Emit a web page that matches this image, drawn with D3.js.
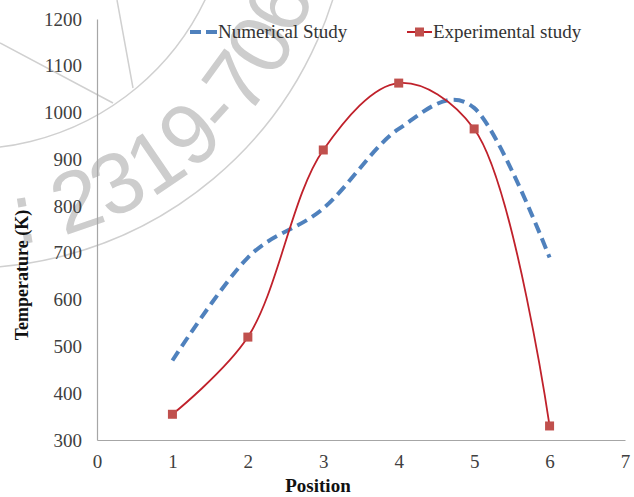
<!DOCTYPE html>
<html>
<head>
<meta charset="utf-8">
<script src="https://cdn.jsdelivr.net/npm/d3@7"></script>
<style>
  body { margin: 0; background: #fff; }
  svg { display: block; }
  text { font-family: "Times New Roman", "Liberation Serif", serif; }
</style>
</head>
<body>
<div id="chart"></div>
<script>
'use strict';

var positions = [1, 2, 3, 4, 5, 6];
var numerical = [470, 690, 795, 965, 1010, 690];
var experimental = [355, 520, 920, 1063, 965, 330];
var xTicks = [0, 1, 2, 3, 4, 5, 6, 7];
var yTicks = [300, 400, 500, 600, 700, 800, 900, 1000, 1100, 1200];
var seriesNames = ['Numerical Study', 'Experimental study'];

var width = 634, height = 497;
var blue = '#4f81bd', redLine = '#c0212b', redMark = '#c0504d';
var serif = '"Times New Roman", "Liberation Serif", serif';

var svg = d3.select('#chart')
    .append('svg')
    .attr('width', width)
    .attr('height', height);

// faint stamp watermark behind the chart
var stamp = svg.append('g').attr('class', 'stamp');
var cx = -32, cy = -114;
function arcPath(r, a0, a1) {
    var rad = Math.PI / 180;
    return 'M' + (cx + r * Math.cos(a0 * rad)) + ',' + (cy + r * Math.sin(a0 * rad)) +
        'A' + r + ',' + r + ' 0 0 0 ' + (cx + r * Math.cos(a1 * rad)) + ',' + (cy + r * Math.sin(a1 * rad));
}
stamp.append('path').attr('d', arcPath(382, 100, 0))
    .attr('fill', 'none').attr('stroke', '#d0d0d0').attr('stroke-width', 1.5);
stamp.append('path').attr('d', arcPath(263, 100, 0))
    .attr('fill', 'none').attr('stroke', '#d0d0d0').attr('stroke-width', 1.5);
stamp.append('path').attr('d', 'M0,43L113,103M117,0L133,88')
    .attr('fill', 'none').attr('stroke', '#d0d0d0').attr('stroke-width', 1.5);
stamp.append('path').attr('id', 'stampText').attr('d', arcPath(362, 100, 0)).attr('fill', 'none');
stamp.append('text')
    .style('font-family', '"Liberation Sans", Arial, sans-serif')
    .attr('font-size', 86)
    .attr('fill', '#cdcdcd')
    .append('textPath')
    .attr('href', '#stampText')
    .attr('startOffset', 112)
    .text(': 2319-7064');

var x = d3.scaleLinear().domain([0, 7]).range([97, 625]);
var y = d3.scaleLinear().domain([300, 1200]).range([440, 19]);

var xAxis = svg.append('g')
    .attr('transform', 'translate(0,' + y(300) + ')')
    .call(d3.axisBottom(x).tickValues(xTicks).tickFormat(d3.format('d')).tickSize(0).tickPadding(15));
var yAxis = svg.append('g')
    .attr('transform', 'translate(' + x(0) + ',0)')
    .call(d3.axisLeft(y).tickValues(yTicks).tickFormat(d3.format('d')).tickSize(0).tickPadding(15));

[xAxis, yAxis].forEach(function (ax) {
    ax.attr('font-family', serif).attr('font-size', 19);
    ax.select('.domain').attr('stroke', '#a6a6a6').attr('stroke-width', 1.2);
    ax.selectAll('text')
        .style('font-family', serif)
        .attr('font-size', 19)
        .attr('fill', '#404040');
});

svg.append('text')
    .attr('x', 318).attr('y', 492)
    .attr('text-anchor', 'middle')
    .attr('font-size', 19).attr('font-weight', 'bold')
    .attr('fill', '#111')
    .text('Position');

svg.append('text')
    .attr('transform', 'translate(28,275) rotate(-90)')
    .attr('text-anchor', 'middle')
    .attr('font-size', 18).attr('font-weight', 'bold')
    .attr('fill', '#111')
    .text('Temperature (K)');

function lineWith(curve) {
    return d3.line()
        .x(function (d) { return x(d[0]); })
        .y(function (d) { return y(d[1]); })
        .curve(curve);
}

var numData = positions.map(function (p, i) { return [p, numerical[i]]; });
var expData = positions.map(function (p, i) { return [p, experimental[i]]; });

svg.append('path')
    .datum(numData)
    .attr('d', lineWith(d3.curveCardinal.tension(0)))
    .attr('fill', 'none')
    .attr('stroke', blue)
    .attr('stroke-width', 4)
    .attr('stroke-dasharray', '11,6');

svg.append('path')
    .datum(expData)
    .attr('d', lineWith(d3.curveCatmullRom.alpha(0.5)))
    .attr('fill', 'none')
    .attr('stroke', redLine)
    .attr('stroke-width', 1.8);

svg.selectAll('.marker')
    .data(expData)
    .enter()
    .append('rect')
    .attr('class', 'marker')
    .attr('x', function (d) { return x(d[0]) - 4.5; })
    .attr('y', function (d) { return y(d[1]) - 4.5; })
    .attr('width', 9).attr('height', 9)
    .attr('fill', redMark);

// legend
var legend = svg.append('g').attr('class', 'legend');
legend.append('line')
    .attr('x1', 190).attr('x2', 217).attr('y1', 32).attr('y2', 32)
    .attr('stroke', blue).attr('stroke-width', 4).attr('stroke-dasharray', '11,5');
legend.append('text')
    .attr('x', 218).attr('y', 38)
    .attr('font-size', 19).attr('fill', '#333')
    .text(seriesNames[0]);
legend.append('line')
    .attr('x1', 407).attr('x2', 432).attr('y1', 32).attr('y2', 32)
    .attr('stroke', redLine).attr('stroke-width', 2);
legend.append('rect')
    .attr('x', 415).attr('y', 27.5).attr('width', 9).attr('height', 9)
    .attr('fill', redMark);
legend.append('text')
    .attr('x', 433).attr('y', 38)
    .attr('font-size', 19).attr('fill', '#333')
    .text(seriesNames[1]);
</script>
</body>
</html>
